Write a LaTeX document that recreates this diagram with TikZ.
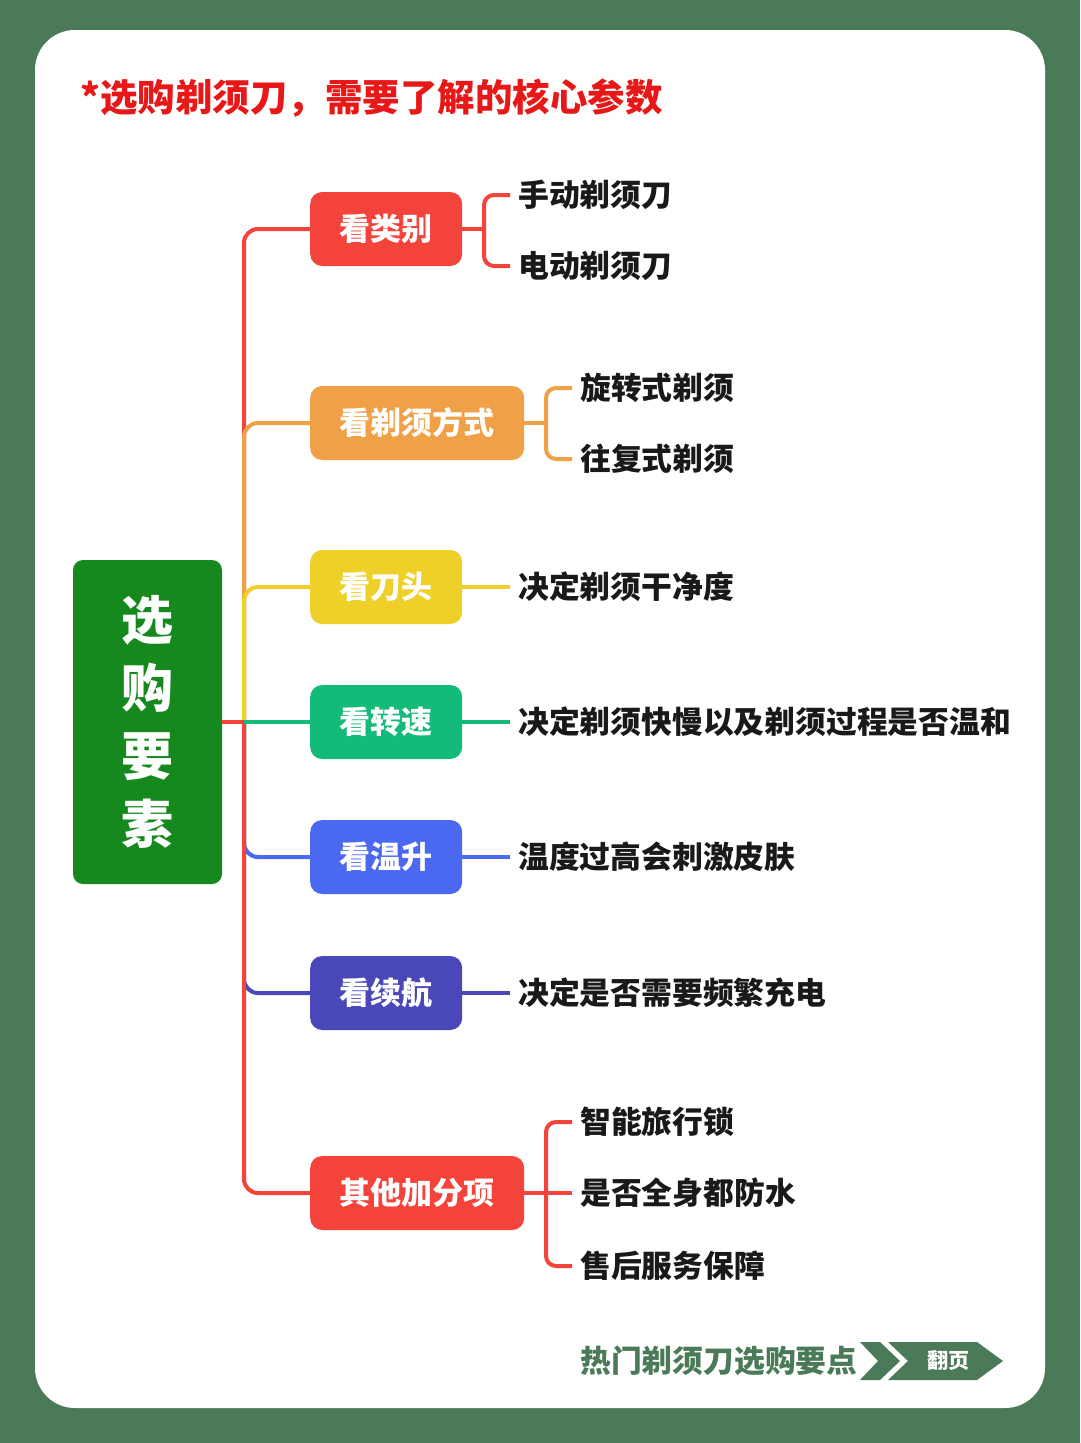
\documentclass[tikz,border=0pt]{standalone}
\usepackage{fontspec}
\setmainfont{Noto Sans CJK SC}
\usepackage{xcolor}
\definecolor{framegreen}{HTML}{4B7A58}
\definecolor{rootgreen}{HTML}{15891E}
\definecolor{titlered}{HTML}{E81818}
\definecolor{cred}{HTML}{F3433A}
\definecolor{corange}{HTML}{F0A046}
\definecolor{cyellow}{HTML}{EED028}
\definecolor{cgreen}{HTML}{14BA78}
\definecolor{cblue}{HTML}{4A68F0}
\definecolor{cindigo}{HTML}{4A48B8}
\newcommand{\fs}[1]{\bfseries\fontsize{#1}{#1}\selectfont}

\begin{document}
\begin{tikzpicture}[x=1pt,y=-1pt,
    rootbox/.style={fill=rootgreen,rounded corners=10pt,minimum width=149pt,minimum height=324pt,
      text=white,inner sep=0pt,align=center,font=\bfseries\fontsize{52}{68}\selectfont},
    topic/.style={anchor=west,rounded corners=12pt,minimum height=74pt,inner sep=0pt,text=white,font=\fs{31}},
    leaf/.style={anchor=west,inner xsep=8pt,inner ysep=0pt,text=black!90,font=\fs{30.8}},
    branch/.style={line width=4pt,rounded corners=14pt},
    bracket/.style={line width=4pt,rounded corners=10pt}]
  % frame and card
  \fill[framegreen] (0,0) rectangle (1080,1443);
  \fill[white,rounded corners=40pt] (35,30) rectangle (1045,1408);
  \node[anchor=west,inner sep=0pt,text=titlered,font=\fs{37.5}] (title) at (80,98) {*选购剃须刀，需要了解的核心参数};

  % root and topics
  \node[rootbox] (root) at (147.5,722) {选\\购\\要\\素};
  \node[topic,fill=cred,minimum width=152pt] (type) at (310,229) {看类别};
  \node[topic,fill=corange,minimum width=214pt] (mode) at (310,423) {看剃须方式};
  \node[topic,fill=cyellow,minimum width=152pt] (head) at (310,587) {看刀头};
  \node[topic,fill=cgreen,minimum width=152pt] (speed) at (310,722) {看转速};
  \node[topic,fill=cblue,minimum width=152pt] (heat) at (310,857) {看温升};
  \node[topic,fill=cindigo,minimum width=152pt] (life) at (310,993) {看续航};
  \node[topic,fill=cred,minimum width=214pt] (extra) at (310,1193) {其他加分项};

  % leaves
  \node[leaf] (manual) at (510,195) {手动剃须刀};
  \node[leaf] (electric) at (510,266) {电动剃须刀};
  \node[leaf] (rotary) at (572,388) {旋转式剃须};
  \node[leaf] (foil) at (572,459) {往复式剃须};
  \node[leaf] (clean) at (510,587) {决定剃须干净度};
  \node[leaf] (pace) at (510,722) {决定剃须快慢以及剃须过程是否温和};
  \node[leaf] (skin) at (510,857) {温度过高会刺激皮肤};
  \node[leaf] (charge) at (510,993) {决定是否需要频繁充电};
  \node[leaf] (lock) at (572,1122) {智能旅行锁};
  \node[leaf] (water) at (572,1193) {是否全身都防水};
  \node[leaf] (service) at (572,1266) {售后服务保障};

  % trunk
  \coordinate (trunk) at (244,722);
  \draw[branch,cred] (trunk) |- (type.west);
  \draw[branch,corange] (trunk) |- (mode.west);
  \draw[branch,cyellow] (trunk) |- (head.west);
  \draw[branch,cblue] (trunk) |- (heat.west);
  \draw[branch,cindigo] (trunk) |- (life.west);
  \draw[branch,cred] (trunk) |- (extra.west);
  \draw[branch,cgreen] (trunk) -- (speed.west);
  \draw[line width=4pt,cred] (root.east) -- (trunk);

  % brackets and leaf lines
  \coordinate (kType) at (484,229);
  \draw[line width=4pt,cred] (type.east) -- (kType);
  \draw[bracket,cred] (manual.west) -| (kType) |- (electric.west);
  \coordinate (kMode) at (546,423);
  \draw[line width=4pt,corange] (mode.east) -- (kMode);
  \draw[bracket,corange] (rotary.west) -| (kMode) |- (foil.west);
  \draw[line width=4pt,cyellow] (head.east) -- (clean.west);
  \draw[line width=4pt,cgreen] (speed.east) -- (pace.west);
  \draw[line width=4pt,cblue] (heat.east) -- (skin.west);
  \draw[line width=4pt,cindigo] (life.east) -- (charge.west);
  \coordinate (kExtra) at (546,1193);
  \draw[line width=4pt,cred] (extra.east) -- (water.west);
  \draw[bracket,cred] (lock.west) -| (kExtra) |- (service.west);

  % footer
  \node[anchor=west,inner sep=0pt,text=framegreen,font=\fs{30.8}] (hint) at (580,1361) {热门剃须刀选购要点};
  \fill[framegreen] (860,1342) -- (880,1342) -- (900,1361) -- (880,1380) -- (860,1380) -- (878,1361) -- cycle;
  \fill[framegreen] (888,1342) -- (977,1342) -- (1003,1361) -- (977,1380) -- (888,1380) -- (908,1361) -- cycle;
  \node[inner sep=0pt,text=white,font=\fs{21}] (flip) at (948,1361) {翻页};
\end{tikzpicture}
\end{document}
